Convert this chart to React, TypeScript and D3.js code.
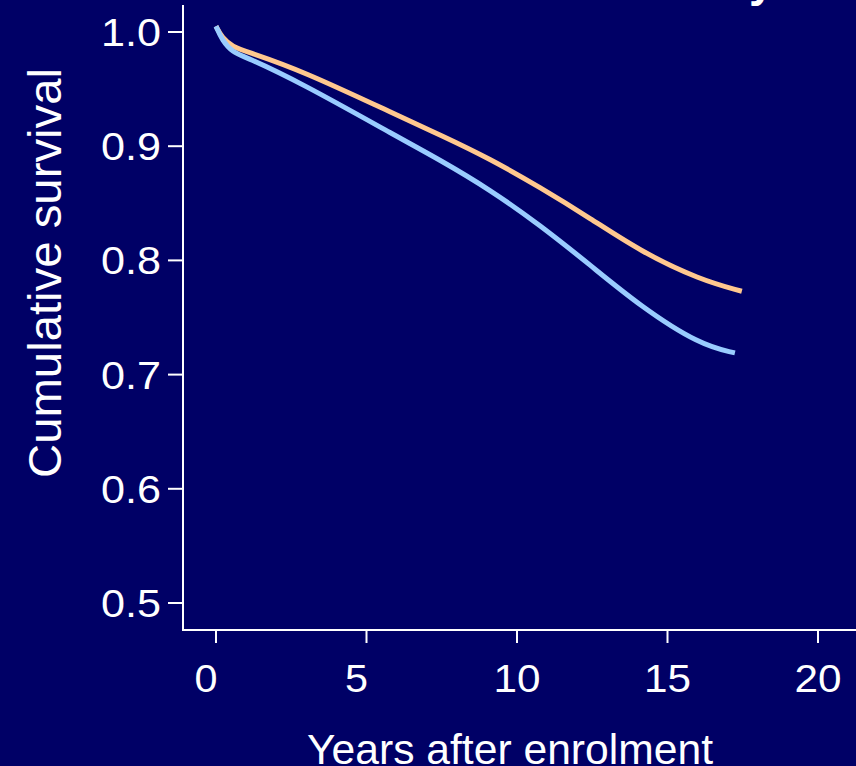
import React from "react";
import * as d3 from "d3";

const xTicks = [0, 5, 10, 15, 20];
const yTicks = [0.5, 0.6, 0.7, 0.8, 0.9, 1.0];
const yTickLabels = ["0.5", "0.6", "0.7", "0.8", "0.9", "1.0"];

const orangeYears = [0, 0.2, 0.56, 1, 2.79, 6.11, 7.44, 9.1, 10.76, 12.43, 14.09, 16.08, 17.47];
const orangeSurv = [1.005, 0.995, 0.987, 0.983, 0.967, 0.926, 0.91, 0.889, 0.864, 0.837, 0.808, 0.783, 0.773];

const blueYears = [0, 0.2, 0.56, 1, 2.79, 6.11, 7.44, 9.1, 10.76, 12.43, 14.09, 16.08, 17.24];
const blueSurv = [1.005, 0.993, 0.982, 0.978, 0.956, 0.907, 0.888, 0.862, 0.831, 0.796, 0.76, 0.726, 0.719];

const W = 856;
const H = 766;
const BG = "#000066";
const FONT = "'Liberation Sans', Arial, sans-serif";

export default function App() {
  const x = d3.scaleLinear().domain([0, 20]).range([216, 818]);
  const y = d3.scaleLinear().domain([0.5, 1.0]).range([603, 32]);

  const line = d3
    .line<[number, number]>()
    .x((d) => x(d[0]))
    .y((d) => y(d[1]))
    .curve(d3.curveBasis);

  const orange = orangeYears.map((t, i) => [t, orangeSurv[i]] as [number, number]);
  const blue = blueYears.map((t, i) => [t, blueSurv[i]] as [number, number]);

  const axisX = 183;
  const axisY = 630;

  return (
    <svg
      width={W}
      height={H}
      style={{ position: "absolute", left: 0, top: 0, display: "block" }}
    >
      <rect x={0} y={0} width={W} height={H} fill={BG} />
      {/* clipped title descender */}
      <text x={749} y={-4} fill="#fff" fontFamily={FONT} fontSize={46} fontWeight="bold">
        y
      </text>

      {/* y axis */}
      <line x1={axisX} x2={axisX} y1={5} y2={axisY + 1} stroke="#fff" strokeWidth={2} />
      {yTicks.map((v, i) => (
        <g key={v}>
          <line x1={168} x2={axisX} y1={y(v)} y2={y(v)} stroke="#fff" strokeWidth={2} />
          <text
            x={161}
            y={y(v)}
            dy="0.36em"
            textAnchor="end"
            fill="#fff"
            fontFamily={FONT}
            fontSize={39}
            textLength={60}
            lengthAdjust="spacingAndGlyphs"
          >
            {yTickLabels[i]}
          </text>
        </g>
      ))}

      {/* x axis */}
      <line x1={axisX - 1} x2={W} y1={axisY} y2={axisY} stroke="#fff" strokeWidth={2} />
      {xTicks.map((v) => (
        <g key={v}>
          <line x1={x(v)} x2={x(v)} y1={axisY} y2={643} stroke="#fff" strokeWidth={2} />
          <text
            x={x(v) + (String(v).length === 1 ? -10 : 0)}
            y={692}
            textAnchor="middle"
            fill="#fff"
            fontFamily={FONT}
            fontSize={39}
            textLength={String(v).length === 1 ? 23 : 47}
            lengthAdjust="spacingAndGlyphs"
          >
            {v}
          </text>
        </g>
      ))}

      {/* axis titles */}
      <text
        x={510}
        y={764}
        textAnchor="middle"
        fill="#fff"
        fontFamily={FONT}
        fontSize={42}
        textLength={406}
        lengthAdjust="spacingAndGlyphs"
      >
        Years after enrolment
      </text>
      <text
        transform={`translate(61,273) rotate(-90)`}
        textAnchor="middle"
        fill="#fff"
        fontFamily={FONT}
        fontSize={46}
        textLength={410}
        lengthAdjust="spacingAndGlyphs"
      >
        Cumulative survival
      </text>

      {/* curves */}
      <path d={line(orange) || ""} fill="none" stroke="#FFC88F" strokeWidth={5} />
      <path d={line(blue) || ""} fill="none" stroke="#99CCFF" strokeWidth={5} />
    </svg>
  );
}
